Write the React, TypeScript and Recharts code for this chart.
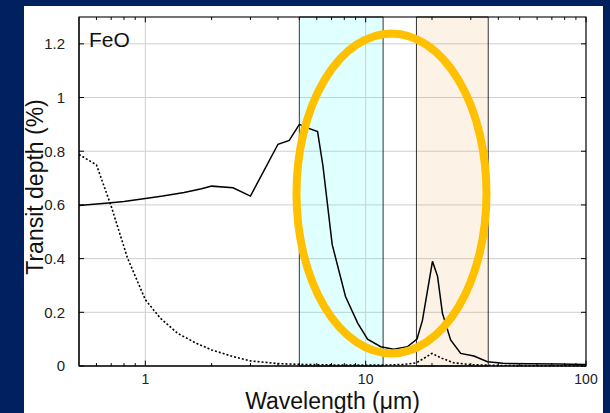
import React from 'react';
import {
  LineChart,
  Line,
  XAxis,
  YAxis,
  CartesianGrid,
  ReferenceArea,
  ReferenceLine,
  ReferenceDot,
  Label,
} from 'recharts';

// solid curve: transit depth (%) vs wavelength (um)
const solidWavelength = [
  0.5, 0.6, 0.7, 0.8, 1, 1.2, 1.5, 1.8, 2, 2.5, 3, 4, 4.5, 5, 5.4, 6.05, 6.4, 7.05, 8.1, 9.2,
  10.2, 11.7, 13.4, 15.5, 17.1, 18.1, 20.1, 21.2, 22.3, 24.3, 27, 31, 35.7, 42, 55, 75, 100,
];
const solidDepth = [
  0.598, 0.603, 0.608, 0.613, 0.624, 0.633, 0.646, 0.66, 0.67, 0.664, 0.633, 0.826, 0.84, 0.9,
  0.888, 0.873, 0.745, 0.452, 0.259, 0.16, 0.1, 0.072, 0.062, 0.072, 0.1, 0.17, 0.39, 0.334,
  0.197, 0.097, 0.047, 0.037, 0.016, 0.01, 0.008, 0.007, 0.006,
];

// dotted curve
const dottedWavelength = [
  0.5, 0.6, 0.7, 0.83, 1, 1.17, 1.4, 1.7, 2, 2.5, 3, 4, 5, 7, 10, 13, 15, 17, 18.5, 20, 22, 25,
  30, 40, 60, 100,
];
const dottedDepth = [
  0.788, 0.749, 0.595, 0.402, 0.247, 0.178, 0.122, 0.085, 0.06, 0.035, 0.019, 0.009, 0.006,
  0.004, 0.003, 0.004, 0.006, 0.012, 0.03, 0.047, 0.03, 0.012, 0.005, 0.002, 0.001, 0.001,
];

const xTicks = [1, 10, 100];
const yTicks = [0, 0.2, 0.4, 0.6, 0.8, 1, 1.2];
const minorXTicks = [0.6, 0.7, 0.8, 0.9, 2, 3, 4, 5, 6, 7, 8, 9, 20, 30, 40, 50, 60, 70, 80, 90];

// highlighted windows
const cyanBand = [5, 12];
const peachBand = [17, 36];

const solidData = solidWavelength.map((w, i) => ({ w, v: solidDepth[i] }));
const dottedData = dottedWavelength.map((w, i) => ({ w, v: dottedDepth[i] }));

const font = '"Liberation Sans", Helvetica, Arial, sans-serif';

export default function App() {
  return (
    <div style={{ position: 'relative', width: 610, height: 413, background: '#002060', fontFamily: font }}>
      <style>{'body{margin:0}'}</style>
      <div style={{ position: 'absolute', left: 24, top: 6, width: 579, height: 407, background: '#fff' }} />
      <div style={{ position: 'absolute', left: 0, top: 0 }}>
        <LineChart width={610} height={413} margin={{ top: 17, right: 24, bottom: 0, left: 0 }}>
          <CartesianGrid vertical={false} stroke="#cfcfcf" strokeWidth={1} />
          <XAxis
            dataKey="w"
            type="number"
            scale="log"
            domain={[0.5, 100]}
            allowDataOverflow
            ticks={xTicks}
            tickLine={false}
            axisLine={{ stroke: '#000' }}
            height={47}
            tickMargin={2}
            tick={{ fontSize: 14, fill: '#222', fontFamily: font }}
          >
            <Label
              content={({ viewBox }: any) => (
                <text
                  x={viewBox.x + viewBox.width / 2}
                  y={409}
                  textAnchor="middle"
                  fontSize={23}
                  fill="#111"
                  fontFamily={font}
                >
                  Wavelength (μm)
                </text>
              )}
            />
          </XAxis>
          <YAxis
            type="number"
            domain={[0, 1.3]}
            ticks={yTicks}
            tickLine={false}
            axisLine={{ stroke: '#000' }}
            width={79}
            tickMargin={8}
            tick={{ fontSize: 15, fill: '#222', fontFamily: font }}
          >
            <Label
              content={() => (
                <text
                  x={43}
                  y={187}
                  transform="rotate(-90 43 187)"
                  textAnchor="middle"
                  fontSize={23}
                  fill="#111"
                  fontFamily={font}
                >
                  Transit depth (%)
                </text>
              )}
            />
          </YAxis>

          <ReferenceArea x1={cyanBand[0]} x2={cyanBand[1]} y1={0} y2={1.3} fill="#00ffff" fillOpacity={0.12} stroke="#000" strokeWidth={0.8} />
          <ReferenceArea x1={peachBand[0]} x2={peachBand[1]} y1={0} y2={1.3} fill="#e8952e" fillOpacity={0.12} stroke="#000" strokeWidth={0.8} />

          <ReferenceLine x={1} stroke="#cfcfcf" />
          <ReferenceLine x={10} stroke="#cfcfcf" />

          {minorXTicks.map((t) => (
            <ReferenceLine key={'b' + t} segment={[{ x: t, y: 0 }, { x: t, y: 0.011 }]} stroke="#000" />
          ))}
          {minorXTicks.map((t) => (
            <ReferenceLine key={'t' + t} segment={[{ x: t, y: 1.3 }, { x: t, y: 1.289 }]} stroke="#000" />
          ))}
          {xTicks.map((t) => (
            <ReferenceLine key={'bm' + t} segment={[{ x: t, y: 0 }, { x: t, y: 0.02 }]} stroke="#000" />
          ))}
          {xTicks.map((t) => (
            <ReferenceLine key={'tm' + t} segment={[{ x: t, y: 1.3 }, { x: t, y: 1.28 }]} stroke="#000" />
          ))}
          {yTicks.map((t) => (
            <ReferenceLine key={'l' + t} segment={[{ x: 0.5, y: t }, { x: 0.527, y: t }]} stroke="#000" />
          ))}
          {yTicks.map((t) => (
            <ReferenceLine key={'r' + t} segment={[{ x: 94.9, y: t }, { x: 100, y: t }]} stroke="#000" />
          ))}

          <ReferenceArea x1={0.5} x2={100} y1={0} y2={1.3} fill="none" stroke="#000" strokeWidth={1.2} />

          <Line
            data={dottedData}
            dataKey="v"
            type="linear"
            stroke="#000"
            strokeWidth={1.6}
            strokeDasharray="2 2"
            dot={false}
            isAnimationActive={false}
          />
          <Line
            data={solidData}
            dataKey="v"
            type="linear"
            stroke="#000"
            strokeWidth={1.5}
            dot={false}
            isAnimationActive={false}
          />

          <ReferenceDot
            x={13.1}
            y={0.643}
            ifOverflow="visible"
            shape={(p: any) => (
              <ellipse cx={p.cx} cy={p.cy} rx={95} ry={160} fill="none" stroke="#ffc000" strokeWidth={8} />
            )}
          />
          <ReferenceDot
            x={0.5}
            y={1.2}
            ifOverflow="visible"
            shape={(p: any) => (
              <text x={p.cx + 10} y={p.cy + 3} fontSize={21} fill="#111" fontFamily={font}>
                FeO
              </text>
            )}
          />
        </LineChart>
      </div>
    </div>
  );
}
